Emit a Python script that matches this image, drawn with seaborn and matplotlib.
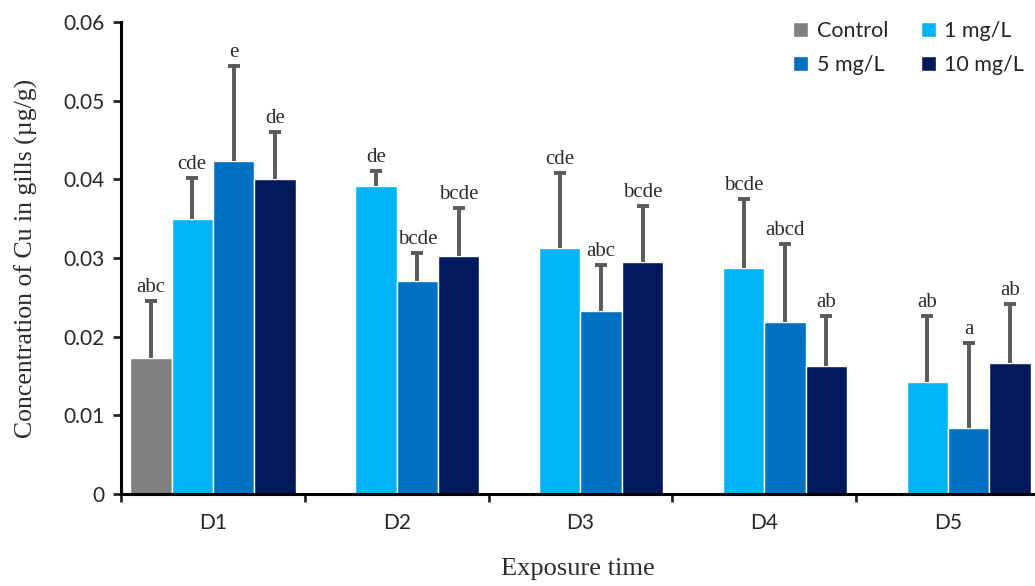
import numpy as np
import pandas as pd
import matplotlib.pyplot as plt
import seaborn as sns

# Cu in gills, mean and SD per exposure day / treatment
days = ["D1", "D2", "D3", "D4", "D5"]
groups = ["Control", "1 mg/L", "5 mg/L", "10 mg/L"]

control = [0.0173, np.nan, np.nan, np.nan, np.nan]
mg1 = [0.0349, 0.0391, 0.0313, 0.0287, 0.0142]
mg5 = [0.0423, 0.0271, 0.0233, 0.0219, 0.0084]
mg10 = [0.0400, 0.0303, 0.0295, 0.0163, 0.0166]

sd_control = [0.0072, np.nan, np.nan, np.nan, np.nan]
sd_mg1 = [0.0053, 0.0019, 0.0095, 0.0088, 0.0084]
sd_mg5 = [0.0121, 0.0035, 0.0058, 0.0099, 0.0108]
sd_mg10 = [0.0060, 0.0060, 0.0071, 0.0063, 0.0075]

let_control = ["abc", "", "", "", ""]
let_mg1 = ["cde", "de", "cde", "bcde", "ab"]
let_mg5 = ["e", "bcde", "abc", "abcd", "a"]
let_mg10 = ["de", "bcde", "bcde", "ab", "ab"]

colors = ["#808080", "#00B4F5", "#0070C0", "#00195A"]

means = [control, mg1, mg5, mg10]
sds = [sd_control, sd_mg1, sd_mg5, sd_mg10]
letters = [let_control, let_mg1, let_mg5, let_mg10]

df = pd.DataFrame({
    "day": np.tile(days, len(groups)),
    "group": np.repeat(groups, len(days)),
    "conc": np.concatenate(means),
})

sns.set_style("ticks")
serif = ["Liberation Serif", "DejaVu Serif"]
sans = ["Lato", "DejaVu Sans"]

fig = plt.figure(figsize=(10.35, 5.86), dpi=100)
ax = fig.add_axes([121 / 1035, 92 / 586, 914 / 1035, 472 / 586])

sns.barplot(data=df, x="day", y="conc", hue="group", order=days, hue_order=groups,
            palette=colors, width=0.9, errorbar=None, saturation=1, ax=ax)

# one-sided error bars (upper cap only) + significance letters
bar_conts = list(ax.containers)
for gi, cont in enumerate(bar_conts):
    for bar in cont:
        h = bar.get_height()
        if np.isnan(h) or h == 0:
            continue
        xc = bar.get_x() + bar.get_width() / 2
        di = int(round(xc))
        sd = sds[gi][di]
        eb = ax.errorbar(xc, h, yerr=[[0], [sd]], fmt="none", ecolor="#595959",
                         elinewidth=2.8, capsize=4.5, capthick=2.8, zorder=3)
        eb[1][0].set_visible(False)  # drop the cap sitting on the bar top
        ax.annotate(letters[gi][di], (xc, h + sd), xytext=(0, 3),
                    textcoords="offset points", ha="center", va="bottom",
                    fontsize=15, family=serif, color="#2b2b2b")

ax.set_ylim(0, 0.06)
ax.set_xlim(-0.5, 4.473)
ax.set_yticks(np.arange(0, 0.061, 0.01))
ax.set_yticklabels(["0", "0.01", "0.02", "0.03", "0.04", "0.05", "0.06"],
                   family=sans, fontsize=15)
ax.set_xticks(range(len(days)))
ax.set_xticklabels(days, family=sans, fontsize=15)
ax.tick_params(axis="x", which="major", length=0, pad=14)
ax.set_xticks(np.arange(-0.5, 4.0, 1.0), minor=True)
ax.tick_params(axis="x", which="minor", length=6, width=2, direction="out")
ax.tick_params(axis="y", length=6, width=2, direction="out", pad=6)

for s in ["top", "right"]:
    ax.spines[s].set_visible(False)
for s in ["left", "bottom"]:
    ax.spines[s].set_linewidth(2.2)
    ax.spines[s].set_color("black")

ax.set_ylabel("Concentration of Cu in gills (\u00b5g/g)", family=serif,
              fontsize=18.5, color="#2b2b2b", labelpad=18)
ax.set_xlabel("Exposure time", family=serif, fontsize=19, color="#2b2b2b",
              labelpad=18)

handles, labels = ax.get_legend_handles_labels()
ax.legend_.remove()
order = [0, 2, 1, 3]  # fill rows: Control | 1 mg/L, then 5 mg/L | 10 mg/L
fig.legend([handles[i] for i in order], [labels[i] for i in order], ncol=2,
           frameon=False, loc="upper left", bbox_to_anchor=(774 / 1035, 1 - 2 / 586),
           prop={"family": sans, "size": 15.5},
           handlelength=0.7, handleheight=0.7, handletextpad=0.4,
           columnspacing=1.5, labelspacing=0.65)

fig.savefig("out.png", dpi=100)
